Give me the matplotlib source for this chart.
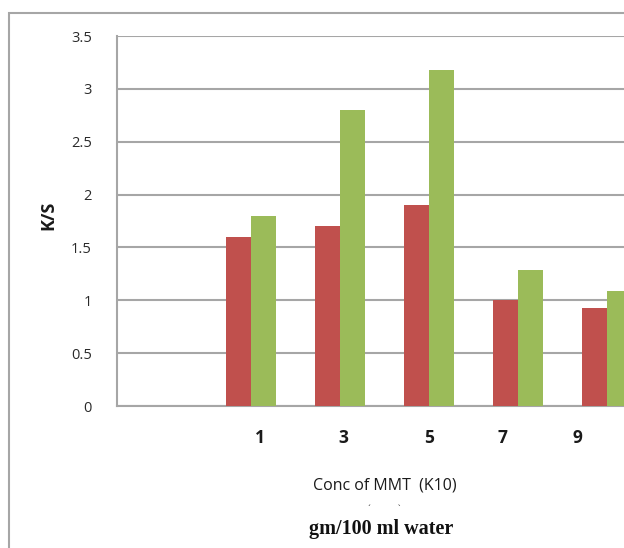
import matplotlib.pyplot as plt
from matplotlib.patches import Rectangle

# category slots (first slot is empty in the original)
categories = ["", "1", "3", "5", "7", "9"]
red_vals = [0, 1.6, 1.7, 1.9, 1.0, 0.93]
green_vals = [0, 1.8, 2.8, 3.18, 1.29, 1.09]
yticks = [0, 0.5, 1, 1.5, 2, 2.5, 3, 3.5]
# where the number labels sit under the groups (in category units)
label_pos = [1.10, 2.04, 3.0, 3.83, 4.67]
label_text = ["1", "3", "5", "7", "9"]

fig = plt.figure(figsize=(6.24, 5.48), dpi=100)

# outer chart border (cropped at the right and bottom)
fig.patches.append(Rectangle((9/624, -0.1), 1.2, 1 - 13/548 + 0.1,
                             transform=fig.transFigure, fill=False,
                             edgecolor="#a6a6a6", linewidth=1.5))

ax = fig.add_axes([117/624, 142/548, 1 - 117/624, 370/548])

x = list(range(len(categories)))
w = 0.28
ax.bar([i - w/2 for i in x], red_vals, width=w, color="#C0504D", zorder=3)
ax.bar([i + w/2 for i in x], green_vals, width=w, color="#9BBB59", zorder=3)

ax.set_xlim(-0.5, 5.19)
ax.set_ylim(0, 3.5)
ax.set_yticks(yticks)
ax.set_yticklabels([f"{t:g}" for t in yticks], fontsize=10.5, color="#2a2a2a",
                   family="Open Sans")
ax.tick_params(axis="y", length=0, pad=18)
ax.set_xticks([])
ax.yaxis.grid(True, color="#a6a6a6", linewidth=1.5, zorder=0)

for s in ["top", "right"]:
    ax.spines[s].set_visible(False)
for s in ["left", "bottom"]:
    ax.spines[s].set_color("#a6a6a6")
    ax.spines[s].set_linewidth(1.5)

for p, t in zip(label_pos, label_text):
    ax.text(p, -0.3, t, ha="center", va="center", fontsize=12.5,
            fontweight="bold", color="#1a1a1a", family="Open Sans")

fig.text(48/624, 1 - 215/548, "K/S", rotation=90, ha="center", va="center",
         fontsize=13, fontweight="bold", family="Open Sans", color="#1a1a1a")
fig.text(385/624, 1 - 486/548, "Conc of MMT  (K10)", ha="center", va="center",
         fontsize=11.5, family="Open Sans", color="#1a1a1a")
fig.text(384/624, 1 - 509/548, "\u00b4          `", ha="center", va="center",
         fontsize=6, color="#222222")
fig.text(381/624, 1 - 529/548, "gm/100 ml water", ha="center", va="center",
         fontsize=14.5, fontweight="bold", family="Liberation Serif",
         color="#111111")

fig.savefig("out.png", dpi=100)
